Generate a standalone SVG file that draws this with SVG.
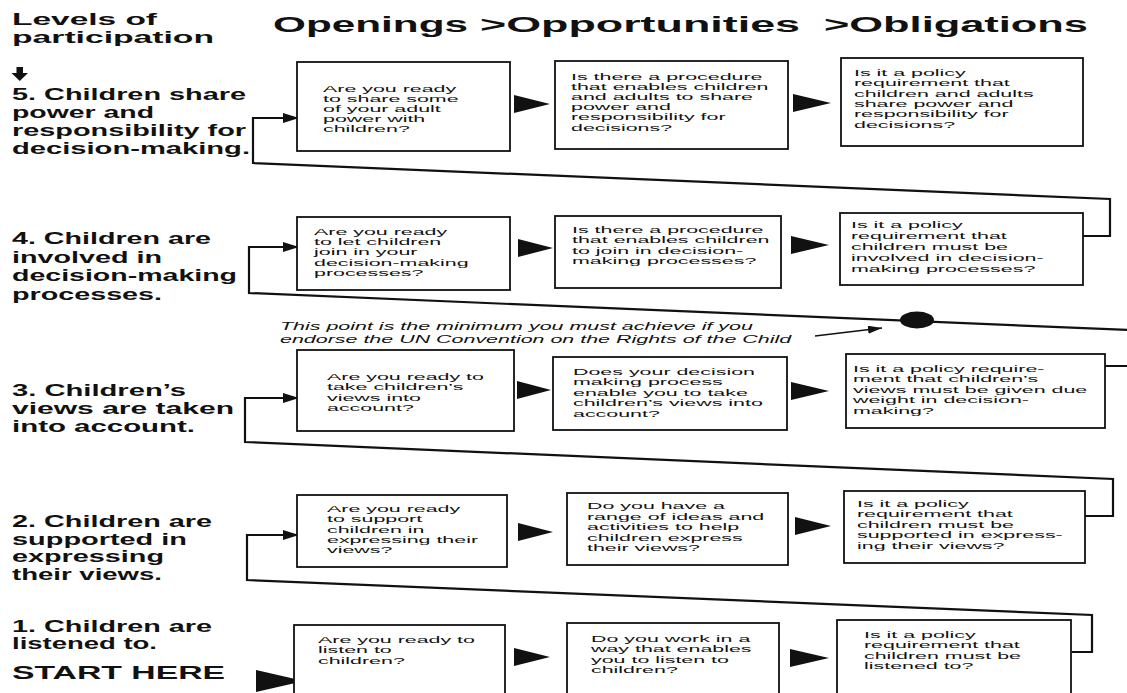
<svg xmlns="http://www.w3.org/2000/svg" width="1127" height="693" viewBox="0 0 1127 693">
<style>
.lbl{font-family:"Liberation Sans",Arial,sans-serif;font-weight:bold;font-size:16px;fill:#111}
.ttl{font-family:"Liberation Sans",Arial,sans-serif;font-weight:bold;font-size:22px;fill:#111}
.bt{font-family:"Liberation Sans",Arial,sans-serif;font-size:9.6px;fill:#111}
.it{font-family:"Liberation Sans",Arial,sans-serif;font-style:italic;font-size:11px;fill:#111}
.box{fill:#fff;stroke:#111;stroke-width:1.8}
.con{fill:none;stroke:#111;stroke-width:2.2;stroke-linejoin:miter}
.tri{fill:#111}
</style>
<defs>
<marker id="ah" viewBox="0 0 16 10" refX="16" refY="5" markerWidth="16" markerHeight="10" markerUnits="userSpaceOnUse" orient="auto"><path d="M0,0 L16,5 L0,10 z" fill="#111"/></marker>
<marker id="ahs" viewBox="0 0 14 8" refX="14" refY="4" markerWidth="14" markerHeight="8" markerUnits="userSpaceOnUse" orient="auto"><path d="M0,0 L14,4 L0,8 z" fill="#111"/></marker>
</defs>
<rect width="1127" height="693" fill="#fff"/>

<g id="header">
<text class="lbl" x="12" y="25" textLength="145" lengthAdjust="spacingAndGlyphs">Levels of</text>
<text class="lbl" x="12" y="43" textLength="202" lengthAdjust="spacingAndGlyphs">participation</text>
<path d="M16.5,67 H23 V73 H28 L19.75,81 L11.5,73 H16.5 Z" fill="#111"/>
<text class="ttl" x="273" y="32" textLength="195" lengthAdjust="spacingAndGlyphs">Openings</text>
<text class="ttl" x="480" y="32" textLength="320" lengthAdjust="spacingAndGlyphs">&gt;Opportunities</text>
<text class="ttl" x="824" y="32" textLength="264" lengthAdjust="spacingAndGlyphs">&gt;Obligations</text>
</g>

<g id="level5">
<text class="lbl" x="12" y="100" textLength="234" lengthAdjust="spacingAndGlyphs">5. Children share</text>
<text class="lbl" x="12" y="118" textLength="142" lengthAdjust="spacingAndGlyphs">power and</text>
<text class="lbl" x="12" y="136" textLength="234" lengthAdjust="spacingAndGlyphs">responsibility for</text>
<text class="lbl" x="12" y="154" textLength="238" lengthAdjust="spacingAndGlyphs">decision-making.</text>
</g>
<g id="level4">
<text class="lbl" x="12" y="244" textLength="199" lengthAdjust="spacingAndGlyphs">4. Children are</text>
<text class="lbl" x="12" y="262.5" textLength="150" lengthAdjust="spacingAndGlyphs">involved in</text>
<text class="lbl" x="12" y="281" textLength="225" lengthAdjust="spacingAndGlyphs">decision-making</text>
<text class="lbl" x="12" y="299.5" textLength="150" lengthAdjust="spacingAndGlyphs">processes.</text>
</g>
<g id="level3">
<text class="lbl" x="12" y="396" textLength="174" lengthAdjust="spacingAndGlyphs">3. Children’s</text>
<text class="lbl" x="12" y="414" textLength="222" lengthAdjust="spacingAndGlyphs">views are taken</text>
<text class="lbl" x="12" y="432" textLength="183" lengthAdjust="spacingAndGlyphs">into account.</text>
</g>
<g id="level2">
<text class="lbl" x="12" y="527" textLength="200" lengthAdjust="spacingAndGlyphs">2. Children are</text>
<text class="lbl" x="12" y="544.5" textLength="175" lengthAdjust="spacingAndGlyphs">supported in</text>
<text class="lbl" x="12" y="562" textLength="152" lengthAdjust="spacingAndGlyphs">expressing</text>
<text class="lbl" x="12" y="579.5" textLength="150" lengthAdjust="spacingAndGlyphs">their views.</text>
</g>
<g id="level1">
<text class="lbl" x="12" y="632" textLength="200" lengthAdjust="spacingAndGlyphs">1. Children are</text>
<text class="lbl" x="12" y="649" textLength="145" lengthAdjust="spacingAndGlyphs">listened to.</text>
<text class="lbl" x="12" y="679" style="font-size:18px" textLength="213" lengthAdjust="spacingAndGlyphs">START HERE</text>
</g>

<g id="connectors">
<path class="con" d="M1083,236 H1110 V199 L253,163 V118 H299" marker-end="url(#ah)"/>
<path class="con" d="M1105,366 H1140 V330.5 L249,293 V247 H299" marker-end="url(#ah)"/>
<path class="con" d="M1085,516 H1113 V479 L245,442 V398 H299" marker-end="url(#ah)"/>
<path class="con" d="M1072,652 H1092 V615 L247,580 V535 H299" marker-end="url(#ah)"/>
<polygon class="tri" points="256,670 256,692 304,681"/>
<polygon class="tri" points="514,95 514,113 550,104"/>
<polygon class="tri" points="793,94 793,112 831,103"/>
<polygon class="tri" points="518,239 518,257 553,248"/>
<polygon class="tri" points="791,236 791,254 829,245"/>
<polygon class="tri" points="517,381 517,399 551,390"/>
<polygon class="tri" points="791,382 791,400 829,391"/>
<polygon class="tri" points="518,523 518,541 553,532"/>
<polygon class="tri" points="795,517 795,535 831,526"/>
<polygon class="tri" points="514,648 514,666 550,657"/>
<polygon class="tri" points="790,649 790,667 829,658"/>
</g>

<g id="note">
<text class="it" transform="translate(280,0) scale(1.95,1)"><tspan x="0" y="330">This point is the minimum you must achieve if you</tspan><tspan x="0" y="343">endorse the UN Convention on the Rights of the Child</tspan></text>
<path d="M815,336 L882,328" stroke="#111" stroke-width="1.5" fill="none" marker-end="url(#ahs)"/>
<ellipse cx="917" cy="320" rx="17" ry="8.5" fill="#111"/>
</g>

<g id="b51"><rect class="box" x="297" y="62" width="213" height="89"/>
<text class="bt" transform="translate(323,0) scale(2.23,1)"><tspan x="0" y="92">Are you ready</tspan><tspan x="0" y="102">to share some</tspan><tspan x="0" y="112">of your adult</tspan><tspan x="0" y="122">power with</tspan><tspan x="0" y="132">children?</tspan></text></g>
<g id="b52"><rect class="box" x="555" y="61" width="233" height="88"/>
<text class="bt" transform="translate(571,0) scale(2.23,1)"><tspan x="0" y="80">Is there a procedure</tspan><tspan x="0" y="90">that enables children</tspan><tspan x="0" y="100">and adults to share</tspan><tspan x="0" y="110.5">power and</tspan><tspan x="0" y="120.5">responsibility for</tspan><tspan x="0" y="131">decisions?</tspan></text></g>
<g id="b53"><rect class="box" x="841" y="58" width="242" height="88"/>
<text class="bt" transform="translate(854,0) scale(2.23,1)"><tspan x="0" y="76">Is it a policy</tspan><tspan x="0" y="86.5">requirement that</tspan><tspan x="0" y="97">children and adults</tspan><tspan x="0" y="107">share power and</tspan><tspan x="0" y="117.5">responsibility for</tspan><tspan x="0" y="128">decisions?</tspan></text></g>

<g id="b41"><rect class="box" x="297" y="217" width="213" height="73"/>
<text class="bt" transform="translate(314,0) scale(2.23,1)"><tspan x="0" y="235">Are you ready</tspan><tspan x="0" y="245.2">to let children</tspan><tspan x="0" y="255.4">join in your</tspan><tspan x="0" y="265.6">decision-making</tspan><tspan x="0" y="276">processes?</tspan></text></g>
<g id="b42"><rect class="box" x="555" y="216" width="226" height="72"/>
<text class="bt" transform="translate(572,0) scale(2.23,1)"><tspan x="0" y="233">Is there a procedure</tspan><tspan x="0" y="243.5">that enables children</tspan><tspan x="0" y="254">to join in decision-</tspan><tspan x="0" y="264.5">making processes?</tspan></text></g>
<g id="b43"><rect class="box" x="840" y="213" width="243" height="72"/>
<text class="bt" transform="translate(851,0) scale(2.23,1)"><tspan x="0" y="228">Is it a policy</tspan><tspan x="0" y="239">requirement that</tspan><tspan x="0" y="250">children must be</tspan><tspan x="0" y="261">involved in decision-</tspan><tspan x="0" y="272">making processes?</tspan></text></g>

<g id="b31"><rect class="box" x="297" y="350" width="217" height="81"/>
<text class="bt" transform="translate(327,0) scale(2.23,1)"><tspan x="0" y="380">Are you ready to</tspan><tspan x="0" y="390.3">take children’s</tspan><tspan x="0" y="400.6">views into</tspan><tspan x="0" y="411">account?</tspan></text></g>
<g id="b32"><rect class="box" x="553" y="357" width="234" height="73"/>
<text class="bt" transform="translate(573,0) scale(2.23,1)"><tspan x="0" y="375">Does your decision</tspan><tspan x="0" y="385.5">making process</tspan><tspan x="0" y="396">enable you to take</tspan><tspan x="0" y="406.5">children’s views into</tspan><tspan x="0" y="417">account?</tspan></text></g>
<g id="b33"><rect class="box" x="846" y="354" width="259" height="74"/>
<text class="bt" transform="translate(853,0) scale(2.23,1)"><tspan x="0" y="372">Is it a policy require-</tspan><tspan x="0" y="382.5">ment that children’s</tspan><tspan x="0" y="393">views must be given due</tspan><tspan x="0" y="403.5">weight in decision-</tspan><tspan x="0" y="414">making?</tspan></text></g>

<g id="b21"><rect class="box" x="297" y="495" width="210" height="72"/>
<text class="bt" transform="translate(327,0) scale(2.23,1)"><tspan x="0" y="512">Are you ready</tspan><tspan x="0" y="522.3">to support</tspan><tspan x="0" y="532.6">children in</tspan><tspan x="0" y="543">expressing their</tspan><tspan x="0" y="553.5">views?</tspan></text></g>
<g id="b22"><rect class="box" x="567" y="493" width="221" height="72"/>
<text class="bt" transform="translate(587,0) scale(2.23,1)"><tspan x="0" y="509.5">Do you have a</tspan><tspan x="0" y="520">range of ideas and</tspan><tspan x="0" y="530.5">activities to help</tspan><tspan x="0" y="541">children express</tspan><tspan x="0" y="551.5">their views?</tspan></text></g>
<g id="b23"><rect class="box" x="844" y="491" width="241" height="72"/>
<text class="bt" transform="translate(857,0) scale(2.23,1)"><tspan x="0" y="507">Is it a policy</tspan><tspan x="0" y="517.5">requirement that</tspan><tspan x="0" y="528">children must be</tspan><tspan x="0" y="538.5">supported in express-</tspan><tspan x="0" y="549">ing their views?</tspan></text></g>

<g id="b11"><rect class="box" x="294" y="625" width="211" height="80"/>
<text class="bt" transform="translate(318,0) scale(2.23,1)"><tspan x="0" y="643">Are you ready to</tspan><tspan x="0" y="653.5">listen to</tspan><tspan x="0" y="664">children?</tspan></text></g>
<g id="b12"><rect class="box" x="567" y="623" width="212" height="82"/>
<text class="bt" transform="translate(591,0) scale(2.23,1)"><tspan x="0" y="642">Do you work in a</tspan><tspan x="0" y="652.5">way that enables</tspan><tspan x="0" y="663">you to listen to</tspan><tspan x="0" y="673.5">children?</tspan></text></g>
<g id="b13"><rect class="box" x="837" y="620" width="234" height="85"/>
<text class="bt" transform="translate(864,0) scale(2.23,1)"><tspan x="0" y="638">Is it a policy</tspan><tspan x="0" y="648.5">requirement that</tspan><tspan x="0" y="659">children must be</tspan><tspan x="0" y="669.5">listened to?</tspan></text></g>
</svg>
